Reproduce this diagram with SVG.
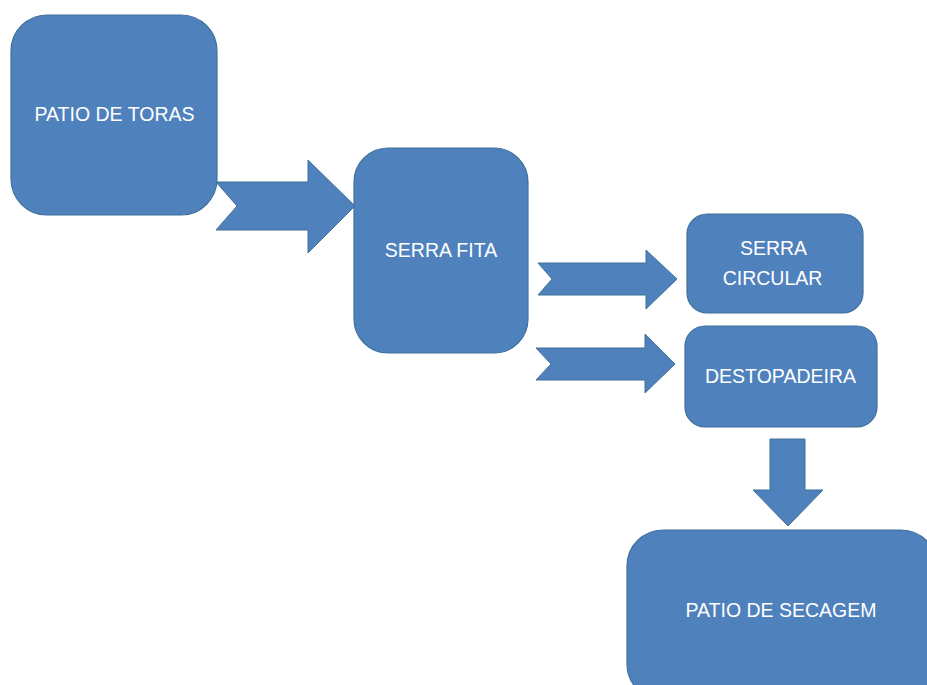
<svg xmlns="http://www.w3.org/2000/svg" width="927" height="685" viewBox="0 0 927 685">
<style>
.box{fill:#4F81BD;stroke:#41719C;stroke-width:1.2}
.arr{fill:#4F81BD;stroke:#41719C;stroke-width:1}
.t{font-family:"Liberation Sans",Arial,sans-serif;font-size:19.5px;fill:#FFFFFF;text-anchor:middle}
</style>
<rect width="927" height="685" fill="#FFFFFF"/>
<g id="connectors">
<polygon class="arr" points="216,182 308,182 308,160 355,206 308,253 308,230 216,230 237,206"/>
<polygon class="arr" points="538,263 646,263 646,250 677,279 646,309 646,295 538,295 552,279"/>
<polygon class="arr" points="536,348 645,348 645,334 675,364 645,393 645,380 536,380 551,364"/>
<polygon class="arr" points="770,439 805,439 805,490 823,490 788,526 753,490 770,490"/>
</g>
<g id="patio-de-toras">
<rect class="box" x="11" y="15" width="206" height="200" rx="36" ry="36"/>
<text class="t" x="114.5" y="121">PATIO DE TORAS</text>
</g>
<g id="serra-fita">
<rect class="box" x="354" y="148" width="174" height="205" rx="34" ry="34"/>
<text class="t" x="441" y="257">SERRA FITA</text>
</g>
<g id="serra-circular">
<rect class="box" x="687" y="214" width="176" height="99" rx="20" ry="20"/>
<text class="t" x="773.5" y="255">SERRA</text>
<text class="t" x="772.5" y="285">CIRCULAR</text>
</g>
<g id="destopadeira">
<rect class="box" x="685" y="326" width="192" height="101" rx="20" ry="20"/>
<text class="t" x="780.5" y="383">DESTOPADEIRA</text>
</g>
<g id="patio-de-secagem">
<rect class="box" x="627" y="530" width="310" height="170" rx="36" ry="36"/>
<text class="t" x="781" y="617">PATIO DE SECAGEM</text>
</g>
</svg>
